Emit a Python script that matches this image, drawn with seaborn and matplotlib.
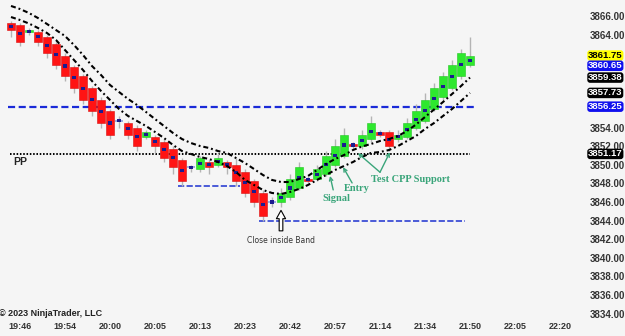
import numpy as np
import pandas as pd
import matplotlib
matplotlib.use('Agg')
import matplotlib.pyplot as plt
import seaborn as sns

# bar data (tick bars)
opens = [3865.25, 3865.0, 3864.25, 3864.25, 3863.75, 3863.0, 3861.75, 3860.5, 3859.5, 3858.25,
         3857.0, 3855.75, 3854.75, 3854.5, 3854.0, 3853.0, 3853.0, 3852.5, 3851.75, 3850.5,
         3849.75, 3849.5, 3850.25, 3850.0, 3850.25, 3850.0, 3849.25, 3848.25, 3847.0, 3846.0,
         3846.0, 3846.5, 3847.5, 3848.5, 3848.5, 3849.0, 3850.0, 3851.0, 3852.25, 3852.0,
         3852.75, 3853.5, 3853.5, 3852.75, 3853.0, 3854.0, 3854.75, 3856.0, 3857.25, 3858.25,
         3859.5, 3860.75]
highs = [3865.5, 3865.25, 3864.75, 3864.5, 3864.0, 3863.25, 3862.0, 3860.75, 3859.75, 3858.5,
         3857.25, 3856.0, 3855.25, 3854.75, 3854.25, 3853.75, 3853.25, 3852.75, 3852.0, 3850.75,
         3850.0, 3851.0, 3850.5, 3851.25, 3850.5, 3850.75, 3849.5, 3848.5, 3847.25, 3846.5,
         3847.5, 3849.0, 3850.25, 3848.75, 3850.0, 3851.5, 3852.75, 3854.0, 3852.5, 3853.75,
         3855.25, 3853.75, 3853.75, 3853.75, 3855.0, 3856.5, 3857.75, 3858.75, 3860.0, 3861.25,
         3862.5, 3863.75]
lows = [3863.75, 3862.75, 3864.0, 3862.75, 3861.5, 3860.25, 3859.0, 3857.75, 3856.5, 3855.25,
        3854.0, 3852.75, 3854.0, 3852.75, 3851.5, 3852.75, 3851.25, 3850.25, 3849.0, 3847.75,
        3849.25, 3849.25, 3849.0, 3849.75, 3849.0, 3847.75, 3846.5, 3845.5, 3844.0, 3845.5,
        3845.5, 3846.25, 3847.25, 3848.0, 3848.25, 3848.75, 3849.75, 3850.75, 3851.75, 3851.75,
        3852.5, 3853.0, 3851.5, 3852.5, 3852.75, 3853.75, 3854.5, 3855.75, 3857.0, 3858.0,
        3859.25, 3860.5]
closes = [3864.5, 3863.25, 3864.5, 3863.25, 3862.0, 3860.75, 3859.5, 3858.25, 3857.0, 3855.75,
          3854.5, 3853.25, 3854.75, 3853.25, 3852.0, 3853.5, 3852.0, 3850.75, 3849.75, 3848.25,
          3849.75, 3850.75, 3849.75, 3850.75, 3849.75, 3848.25, 3847.0, 3846.0, 3844.5, 3846.0,
          3847.0, 3848.5, 3849.75, 3848.25, 3849.5, 3851.0, 3852.0, 3853.25, 3852.0, 3853.25,
          3854.5, 3853.25, 3852.0, 3853.25, 3854.5, 3855.75, 3857.0, 3858.25, 3859.5, 3860.75,
          3862.0, 3861.75]

# the two dash-dot band lines
upper_band = [3867.08, 3866.75, 3866.32, 3865.78, 3865.14, 3864.49, 3863.85, 3862.88, 3861.81, 3860.62,
              3859.66, 3858.58, 3857.83, 3857.08, 3856.43, 3855.68, 3854.92, 3854.17, 3853.42, 3852.77,
              3852.34, 3852.02, 3851.81, 3851.48, 3851.27, 3850.73, 3850.19, 3849.55, 3848.90, 3848.37,
              3848.15, 3848.15, 3848.47, 3848.80, 3849.44, 3850.09, 3850.62, 3851.05, 3851.59, 3851.97,
              3852.24, 3852.56, 3852.77, 3853.10, 3853.63, 3854.33, 3855.14, 3855.94, 3856.75, 3857.61,
              3858.47, 3859.38]
lower_band = [3865.89, 3865.57, 3865.19, 3864.71, 3864.17, 3863.42, 3862.34, 3861.27, 3860.19, 3859.01,
              3857.94, 3856.97, 3856.00, 3855.25, 3854.71, 3854.17, 3853.53, 3852.88, 3852.13, 3851.48,
              3851.16, 3850.84, 3850.62, 3850.30, 3849.87, 3849.23, 3848.37, 3847.83, 3847.29, 3846.97,
              3846.86, 3847.08, 3847.40, 3847.83, 3848.37, 3848.90, 3849.44, 3849.87, 3850.30, 3850.84,
              3851.27, 3851.38, 3851.59, 3852.02, 3852.56, 3853.10, 3853.85, 3854.49, 3855.25, 3856.00,
              3856.86, 3857.73]

time_labels = ['19:46', '19:54', '20:00', '20:05', '20:13', '20:23', '20:42',
               '20:57', '21:14', '21:34', '21:50', '22:05', '22:20']
# ticks hidden behind the price markers are left out
price_ticks = [3834, 3836, 3838, 3840, 3842, 3844, 3846, 3848, 3850, 3852, 3854, 3864, 3866]

level_blue = 3856.25
level_pp = 3851.17
level_short = 3847.75
level_long = 3844.0

# right-hand price markers: value, background, text colour
markers = [(3861.75, '#ffff00', 'black'), (3860.65, '#1010ee', 'white'),
           (3859.38, 'black', 'white'), (3857.73, 'black', 'white'),
           (3856.25, '#1010ee', 'white'), (3851.17, 'black', 'white')]

df = pd.DataFrame({'bar': np.arange(len(opens)), 'open': opens, 'high': highs,
                   'low': lows, 'close': closes, 'upper': upper_band, 'lower': lower_band})
df['mid'] = (df['open'] + df['close']) / 2

bg = '#f5f5f5'
sns.set_style('white', {'axes.facecolor': bg, 'figure.facecolor': bg})
plt.rcParams['font.family'] = ['Liberation Sans', 'DejaVu Sans']

fig = plt.figure(figsize=(6.25, 3.36), dpi=100)
ax = fig.add_axes([0, 18 / 336, 583 / 625, 318 / 336])

# wicks
ax.vlines(df['bar'], df['low'], df['high'], color='#b4b4b4', lw=1, zorder=2)

# bodies
up = df[df['close'] > df['open']]
down = df[df['close'] < df['open']]
doji = df[df['close'] == df['open']]
ax.bar(up['bar'], up['close'] - up['open'], bottom=up['open'], width=0.8,
       color='#2ee82e', edgecolor='#22c522', lw=0.4, zorder=3)
ax.bar(down['bar'], down['close'] - down['open'], bottom=down['open'], width=0.8,
       color='#ff1414', edgecolor='#d81010', lw=0.4, zorder=3)
ax.hlines(doji['close'], doji['bar'] - 0.4, doji['bar'] + 0.4, color='#8aa0e0', lw=1.2, zorder=3)

# body centre dots
sns.scatterplot(data=df, x='bar', y='mid', marker='s', s=5, color='#1c1c90',
                edgecolor='none', ax=ax, zorder=4)

# bands
band_style = (0, (2.4, 1.4, 0.9, 1.4))
sns.lineplot(data=df, x='bar', y='upper', color='black', lw=1.5, ax=ax, zorder=5,
             linestyle=band_style)
sns.lineplot(data=df, x='bar', y='lower', color='black', lw=1.5, ax=ax, zorder=5,
             linestyle=band_style)

# horizontal levels
ax.hlines(level_blue, -0.35, 51.6, color='#1a2ad8', lw=1.6, linestyles=(0, (3.2, 1.6)), zorder=1)
ax.hlines(level_pp, -0.1, 51.0, color='black', lw=1.4, linestyles=(0, (0.8, 0.9)), zorder=1)
ax.hlines(level_short, 18.6, 25.4, color='#4a5ad8', lw=1.4, linestyles=(0, (3.2, 1.2)), zorder=1)
ax.hlines(level_long, 27.6, 50.5, color='#4a5ad8', lw=1.4, linestyles=(0, (3.2, 1.2)), zorder=1)
ax.text(0.2, level_pp - 0.3, 'PP', fontsize=7.5, fontweight='bold', color='#222222',
        va='top', ha='left')

# annotations
ax.annotate('', xy=(30, 3845.4), xytext=(30, 3842.6),
            arrowprops=dict(arrowstyle='simple,head_length=0.5,head_width=0.55,tail_width=0.22',
                            fc='white', ec='black', lw=0.8, mutation_scale=12), zorder=6)
ax.text(30, 3841.9, 'Close inside Band', fontsize=5.5, color='#333333',
        ha='center', va='center', family='DejaVu Sans')

green = '#3aa57a'
txt_kw = dict(fontsize=7.5, fontweight='bold', color=green, family='Liberation Serif',
              ha='center', va='center', zorder=7)
ax.text(36.1, 3846.4, 'Signal', **txt_kw)
ax.text(38.4, 3847.4, 'Entry', **txt_kw)
ax.text(44.4, 3848.45, 'Test CPP Support', **txt_kw)
arr = dict(arrowstyle='->', color=green, lw=1.0, mutation_scale=6, shrinkA=0, shrinkB=0)
ax.annotate('', xy=(35.45, 3848.8), xytext=(35.8, 3847.3), arrowprops=arr, zorder=7)
ax.annotate('', xy=(36.9, 3849.75), xytext=(37.9, 3848.05), arrowprops=arr, zorder=7)
ax.annotate('', xy=(38.55, 3851.25), xytext=(41.0, 3849.2), arrowprops=arr, zorder=7)
ax.annotate('', xy=(42.1, 3851.35), xytext=(41.0, 3849.2), arrowprops=arr, zorder=7)

ax.text(-1.35, 3834.0, '\u00a9 2023 NinjaTrader, LLC', fontsize=6.5, fontweight='bold',
        color='#222222', ha='left', va='center')

# axes
ax.set_xlim(-11 / 9, 572 / 9)
ax.set_ylim(3866 - 302 / 9.3, 3866 + 16 / 9.3)
ax.set_xticks(np.arange(1, 62, 5))
ax.set_xticklabels(time_labels, fontsize=6.5, fontweight='bold', color='#333333')
ax.yaxis.tick_right()
ax.set_yticks(price_ticks)
ax.set_yticklabels([f'{v:.2f}' for v in price_ticks], fontsize=7, fontweight='bold',
                   color='#333333')
ax.tick_params(axis='both', length=0)
ax.tick_params(axis='y', pad=5)
ax.tick_params(axis='x', pad=3)
ax.set_xlabel('')
ax.set_ylabel('')
for s in ax.spines.values():
    s.set_visible(False)

for value, face, fg in markers:
    ax.text(63.56 + 5 / 9, value, f'{value:.2f}', fontsize=6.8, fontweight='bold', color=fg,
            ha='left', va='center', clip_on=False, zorder=10,
            bbox=dict(boxstyle='round,pad=0.08,rounding_size=0.3', fc=face, ec='none'))

fig.savefig('out.png', dpi=100, facecolor=bg)
